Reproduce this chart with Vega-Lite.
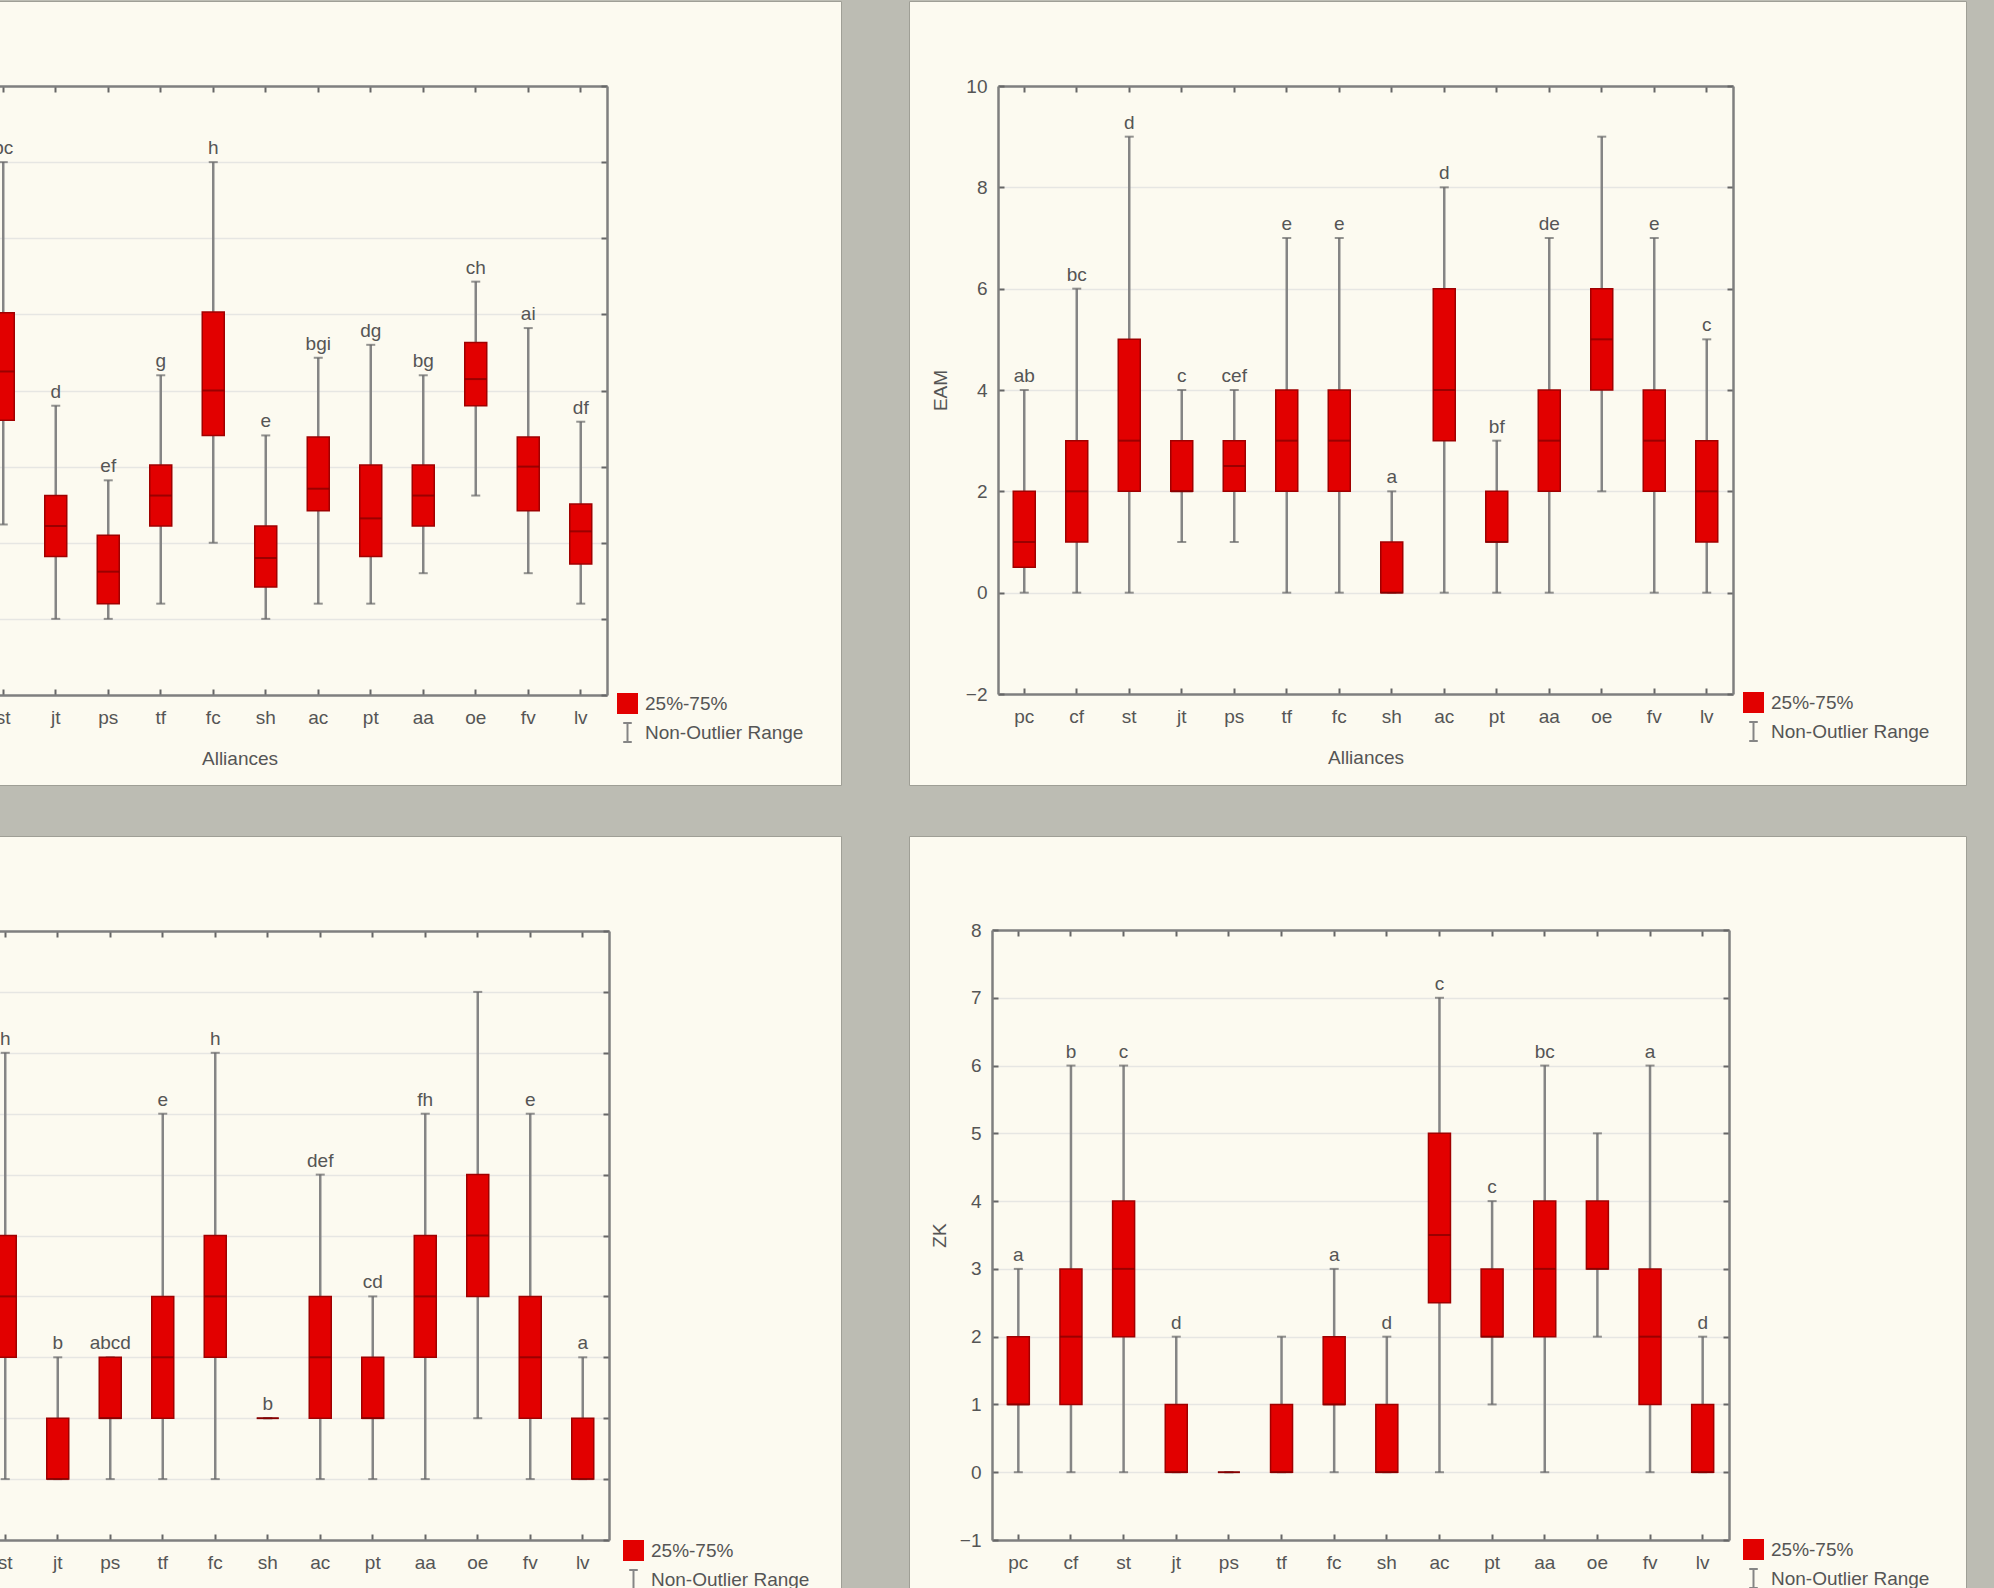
{
"$schema": "https://vega.github.io/schema/vega-lite/v6.json",
"background": "#bcbcb3",
"padding": {"left": -217, "top": 0, "right": 31, "bottom": 0},
"spacing": 66,
"datasets": {
"tl": [
{"a":"st","lo":1.24,"q1":2.61,"med":3.25,"q3":4.02,"hi":6.0,"sig":"bc"},
{"a":"jt","lo":0,"q1":0.82,"med":1.22,"q3":1.62,"hi":2.8,"sig":"d"},
{"a":"ps","lo":0,"q1":0.2,"med":0.62,"q3":1.1,"hi":1.82,"sig":"ef"},
{"a":"tf","lo":0.2,"q1":1.22,"med":1.62,"q3":2.02,"hi":3.2,"sig":"g"},
{"a":"fc","lo":1.0,"q1":2.41,"med":3.0,"q3":4.03,"hi":6.0,"sig":"h"},
{"a":"sh","lo":0,"q1":0.42,"med":0.8,"q3":1.22,"hi":2.41,"sig":"e"},
{"a":"ac","lo":0.2,"q1":1.42,"med":1.71,"q3":2.39,"hi":3.43,"sig":"bgi"},
{"a":"pt","lo":0.2,"q1":0.82,"med":1.32,"q3":2.02,"hi":3.6,"sig":"dg"},
{"a":"aa","lo":0.6,"q1":1.22,"med":1.62,"q3":2.02,"hi":3.2,"sig":"bg"},
{"a":"oe","lo":1.62,"q1":2.8,"med":3.15,"q3":3.63,"hi":4.43,"sig":"ch"},
{"a":"fv","lo":0.6,"q1":1.42,"med":2.0,"q3":2.39,"hi":3.82,"sig":"ai"},
{"a":"lv","lo":0.2,"q1":0.72,"med":1.15,"q3":1.51,"hi":2.59,"sig":"df"}
],
"tr": [
{"a":"pc","lo":0,"q1":0.5,"med":1,"q3":2,"hi":4,"sig":"ab"},
{"a":"cf","lo":0,"q1":1,"med":2,"q3":3,"hi":6,"sig":"bc"},
{"a":"st","lo":0,"q1":2,"med":3,"q3":5,"hi":9,"sig":"d"},
{"a":"jt","lo":1,"q1":2,"med":2,"q3":3,"hi":4,"sig":"c"},
{"a":"ps","lo":1,"q1":2,"med":2.5,"q3":3,"hi":4,"sig":"cef"},
{"a":"tf","lo":0,"q1":2,"med":3,"q3":4,"hi":7,"sig":"e"},
{"a":"fc","lo":0,"q1":2,"med":3,"q3":4,"hi":7,"sig":"e"},
{"a":"sh","lo":0,"q1":0,"med":0,"q3":1,"hi":2,"sig":"a"},
{"a":"ac","lo":0,"q1":3,"med":4,"q3":6,"hi":8,"sig":"d"},
{"a":"pt","lo":0,"q1":1,"med":1,"q3":2,"hi":3,"sig":"bf"},
{"a":"aa","lo":0,"q1":2,"med":3,"q3":4,"hi":7,"sig":"de"},
{"a":"oe","lo":2,"q1":4,"med":5,"q3":6,"hi":9,"sig":""},
{"a":"fv","lo":0,"q1":2,"med":3,"q3":4,"hi":7,"sig":"e"},
{"a":"lv","lo":0,"q1":1,"med":2,"q3":3,"hi":5,"sig":"c"}
],
"bl": [
{"a":"st","lo":0,"q1":2,"med":3,"q3":4,"hi":7,"sig":"h"},
{"a":"jt","lo":0,"q1":0,"med":0,"q3":1,"hi":2,"sig":"b"},
{"a":"ps","lo":0,"q1":1,"med":1,"q3":2,"hi":2,"sig":"abcd"},
{"a":"tf","lo":0,"q1":1,"med":2,"q3":3,"hi":6,"sig":"e"},
{"a":"fc","lo":0,"q1":2,"med":3,"q3":4,"hi":7,"sig":"h"},
{"a":"sh","lo":1,"q1":1,"med":1,"q3":1,"hi":1,"sig":"b"},
{"a":"ac","lo":0,"q1":1,"med":2,"q3":3,"hi":5,"sig":"def"},
{"a":"pt","lo":0,"q1":1,"med":1,"q3":2,"hi":3,"sig":"cd"},
{"a":"aa","lo":0,"q1":2,"med":3,"q3":4,"hi":6,"sig":"fh"},
{"a":"oe","lo":1,"q1":3,"med":4,"q3":5,"hi":8,"sig":""},
{"a":"fv","lo":0,"q1":1,"med":2,"q3":3,"hi":6,"sig":"e"},
{"a":"lv","lo":0,"q1":0,"med":0,"q3":1,"hi":2,"sig":"a"}
],
"br": [
{"a":"pc","lo":0,"q1":1,"med":1,"q3":2,"hi":3,"sig":"a"},
{"a":"cf","lo":0,"q1":1,"med":2,"q3":3,"hi":6,"sig":"b"},
{"a":"st","lo":0,"q1":2,"med":3,"q3":4,"hi":6,"sig":"c"},
{"a":"jt","lo":0,"q1":0,"med":0,"q3":1,"hi":2,"sig":"d"},
{"a":"ps","lo":0,"q1":0,"med":0,"q3":0,"hi":0,"sig":""},
{"a":"tf","lo":0,"q1":0,"med":0,"q3":1,"hi":2,"sig":""},
{"a":"fc","lo":0,"q1":1,"med":1,"q3":2,"hi":3,"sig":"a"},
{"a":"sh","lo":0,"q1":0,"med":0,"q3":1,"hi":2,"sig":"d"},
{"a":"ac","lo":0,"q1":2.5,"med":3.5,"q3":5,"hi":7,"sig":"c"},
{"a":"pt","lo":1,"q1":2,"med":2,"q3":3,"hi":4,"sig":"c"},
{"a":"aa","lo":0,"q1":2,"med":3,"q3":4,"hi":6,"sig":"bc"},
{"a":"oe","lo":2,"q1":3,"med":3,"q3":4,"hi":5,"sig":""},
{"a":"fv","lo":0,"q1":1,"med":2,"q3":3,"hi":6,"sig":"a"},
{"a":"lv","lo":0,"q1":0,"med":0,"q3":1,"hi":2,"sig":"d"}
]
},
"hconcat": [
{"vconcat": [
{
"width": 1057, "height": 784,
"data": {"name": "tl"},
"resolve": {"axis": {"x": "independent", "y": "independent"}},
"layer": [
{"mark": {"type": "rule", "strokeWidth": 2.5},
 "encoding": {
  "x": {"field": "a", "type": "nominal", "scale": {"domain": ["pc","cf","st","jt","ps","tf","fc","sh","ac","pt","aa","oe","fv","lv"], "range": [88, 823], "paddingInner": 0, "paddingOuter": 0},
        "axis": {"orient": "bottom", "offset": -90, "title": "Alliances", "labelPadding": 19, "titlePadding": 22}},
  "y": {"field": "lo", "type": "quantitative", "scale": {"domain": [-1, 7], "range": [694, 85], "nice": false, "zero": false},
        "axis": {"orient": "left", "offset": -88, "values": [-1,0,1,2,3,4,5,6,7], "title": null, "labels": false, "grid": true}},
  "y2": {"field": "hi"},
  "color": {"datum": "Non-Outlier Range", "type": "nominal", "scale": {"domain": ["25%-75%", "Non-Outlier Range"], "range": ["#e20000", "#858585"]},
    "legend": {"orient": "none", "legendX": 833, "legendY": 692, "title": null, "symbolSize": 361, "labelFontSize": 19, "labelColor": "#555", "labelFont": "Liberation Sans", "rowPadding": 2, "labelOffset": 7, "labelLimit": 400, "padding": 0,
      "encode": {"symbols": {"update": {"shape": {"signal": "datum.value === '25%-75%' ? 'square' : 'M-0.45,-1H0.45M0,-1V1M-0.45,1H0.45'"}, "fill": {"signal": "datum.value === '25%-75%' ? '#e20000' : 'transparent'"}, "stroke": {"signal": "datum.value === '25%-75%' ? '#a00000' : '#6e6e6e'"}, "strokeWidth": {"value": 2}, "opacity": {"value": 1}}}}}}
 }},
{"mark": {"type": "tick", "size": 9, "thickness": 2, "color": "#666"},
 "encoding": {"x": {"field": "a", "type": "nominal", "axis": null}, "y": {"field": "lo", "type": "quantitative", "axis": null}}},
{"mark": {"type": "tick", "size": 9, "thickness": 2, "color": "#666"},
 "encoding": {"x": {"field": "a", "type": "nominal", "axis": null}, "y": {"field": "hi", "type": "quantitative", "axis": null}}},
{"mark": {"type": "bar", "width": 22, "stroke": "#a00000", "strokeWidth": 1.5},
 "encoding": {
  "x": {"field": "a", "type": "nominal", "axis": {"orient": "top", "offset": -85, "labels": false, "title": null, "grid": false}},
  "y": {"field": "q1", "type": "quantitative", "axis": {"orient": "right", "offset": -234, "labels": false, "title": null, "grid": false, "values": [-1,0,1,2,3,4,5,6,7]}},
  "y2": {"field": "q3"},
  "color": {"datum": "25%-75%", "type": "nominal", "scale": {"domain": ["25%-75%", "Non-Outlier Range"], "range": ["#e20000", "#858585"]},
    "legend": {"orient": "none", "legendX": 833, "legendY": 692, "title": null, "symbolSize": 361, "labelFontSize": 19, "labelColor": "#555", "labelFont": "Liberation Sans", "rowPadding": 2, "labelOffset": 7, "labelLimit": 400, "padding": 0,
      "encode": {"symbols": {"update": {"shape": {"signal": "datum.value === '25%-75%' ? 'square' : 'M-0.45,-1H0.45M0,-1V1M-0.45,1H0.45'"}, "fill": {"signal": "datum.value === '25%-75%' ? '#e20000' : 'transparent'"}, "stroke": {"signal": "datum.value === '25%-75%' ? '#a00000' : '#6e6e6e'"}, "strokeWidth": {"value": 2}, "opacity": {"value": 1}}}}}}
 }},
{"mark": {"type": "tick", "size": 22, "thickness": 2, "color": "#7c0000"},
 "encoding": {"x": {"field": "a", "type": "nominal", "axis": null}, "y": {"field": "med", "type": "quantitative", "axis": null}}},
{"mark": {"type": "text", "baseline": "bottom", "dy": -4, "fontSize": 19, "color": "#555", "font": "Liberation Sans"},
 "encoding": {"x": {"field": "a", "type": "nominal", "axis": null}, "y": {"field": "hi", "type": "quantitative", "axis": null}, "text": {"field": "sig"}}}
]
},
{
"width": 1057, "height": 755,
"data": {"name": "bl"},
"resolve": {"axis": {"x": "independent", "y": "independent"}},
"layer": [
{"mark": {"type": "rule", "strokeWidth": 2.5},
 "encoding": {
  "x": {"field": "a", "type": "nominal", "scale": {"domain": ["pc","cf","st","jt","ps","tf","fc","sh","ac","pt","aa","oe","fv","lv"], "range": [90, 825], "paddingInner": 0, "paddingOuter": 0},
        "axis": {"orient": "bottom", "offset": -51, "title": null, "labelPadding": 19}},
  "y": {"field": "lo", "type": "quantitative", "scale": {"domain": [-1, 9], "range": [704, 95], "nice": false, "zero": false},
        "axis": {"orient": "left", "offset": -90, "values": [-1,0,1,2,3,4,5,6,7,8,9], "title": null, "labels": false, "grid": true}},
  "y2": {"field": "hi"},
  "color": {"datum": "Non-Outlier Range", "type": "nominal", "scale": {"domain": ["25%-75%", "Non-Outlier Range"], "range": ["#e20000", "#858585"]},
    "legend": {"orient": "none", "legendX": 839, "legendY": 704, "title": null, "symbolSize": 361, "labelFontSize": 19, "labelColor": "#555", "labelFont": "Liberation Sans", "rowPadding": 2, "labelOffset": 7, "labelLimit": 400, "padding": 0,
      "encode": {"symbols": {"update": {"shape": {"signal": "datum.value === '25%-75%' ? 'square' : 'M-0.45,-1H0.45M0,-1V1M-0.45,1H0.45'"}, "fill": {"signal": "datum.value === '25%-75%' ? '#e20000' : 'transparent'"}, "stroke": {"signal": "datum.value === '25%-75%' ? '#a00000' : '#6e6e6e'"}, "strokeWidth": {"value": 2}, "opacity": {"value": 1}}}}}}
 }},
{"mark": {"type": "tick", "size": 9, "thickness": 2, "color": "#666"},
 "encoding": {"x": {"field": "a", "type": "nominal", "axis": null}, "y": {"field": "lo", "type": "quantitative", "axis": null}}},
{"mark": {"type": "tick", "size": 9, "thickness": 2, "color": "#666"},
 "encoding": {"x": {"field": "a", "type": "nominal", "axis": null}, "y": {"field": "hi", "type": "quantitative", "axis": null}}},
{"mark": {"type": "bar", "width": 22, "stroke": "#a00000", "strokeWidth": 1.5},
 "encoding": {
  "x": {"field": "a", "type": "nominal", "axis": {"orient": "top", "offset": -95, "labels": false, "title": null, "grid": false}},
  "y": {"field": "q1", "type": "quantitative", "axis": {"orient": "right", "offset": -232, "labels": false, "title": null, "grid": false, "values": [-1,0,1,2,3,4,5,6,7,8,9]}},
  "y2": {"field": "q3"},
  "color": {"datum": "25%-75%", "type": "nominal", "scale": {"domain": ["25%-75%", "Non-Outlier Range"], "range": ["#e20000", "#858585"]},
    "legend": {"orient": "none", "legendX": 839, "legendY": 704, "title": null, "symbolSize": 361, "labelFontSize": 19, "labelColor": "#555", "labelFont": "Liberation Sans", "rowPadding": 2, "labelOffset": 7, "labelLimit": 400, "padding": 0,
      "encode": {"symbols": {"update": {"shape": {"signal": "datum.value === '25%-75%' ? 'square' : 'M-0.45,-1H0.45M0,-1V1M-0.45,1H0.45'"}, "fill": {"signal": "datum.value === '25%-75%' ? '#e20000' : 'transparent'"}, "stroke": {"signal": "datum.value === '25%-75%' ? '#a00000' : '#6e6e6e'"}, "strokeWidth": {"value": 2}, "opacity": {"value": 1}}}}}}
 }},
{"mark": {"type": "tick", "size": 22, "thickness": 2, "color": "#7c0000"},
 "encoding": {"x": {"field": "a", "type": "nominal", "axis": null}, "y": {"field": "med", "type": "quantitative", "axis": null}}},
{"mark": {"type": "text", "baseline": "bottom", "dy": -4, "fontSize": 19, "color": "#555", "font": "Liberation Sans"},
 "encoding": {"x": {"field": "a", "type": "nominal", "axis": null}, "y": {"field": "hi", "type": "quantitative", "axis": null}, "text": {"field": "sig"}}}
]
}
], "spacing": 49, "resolve": {"scale": {"color": "independent"}, "legend": {"color": "independent"}}},
{"vconcat": [
{
"width": 1057, "height": 784,
"data": {"name": "tr"},
"resolve": {"axis": {"x": "independent", "y": "independent"}},
"layer": [
{"mark": {"type": "rule", "strokeWidth": 2.5},
 "encoding": {
  "x": {"field": "a", "type": "nominal", "scale": {"domain": ["pc","cf","st","jt","ps","tf","fc","sh","ac","pt","aa","oe","fv","lv"], "range": [89, 824], "paddingInner": 0, "paddingOuter": 0},
        "axis": {"orient": "bottom", "offset": -91, "title": "Alliances", "labelPadding": 19, "titlePadding": 22}},
  "y": {"field": "lo", "type": "quantitative", "scale": {"domain": [-2, 10], "range": [693, 85], "nice": false, "zero": false},
        "axis": {"orient": "left", "offset": -89, "values": [-2,0,2,4,6,8,10], "title": "EAM", "grid": true, "labelPadding": 17, "titlePadding": 15}},
  "y2": {"field": "hi"},
  "color": {"datum": "Non-Outlier Range", "type": "nominal", "scale": {"domain": ["25%-75%", "Non-Outlier Range"], "range": ["#e20000", "#858585"]},
    "legend": {"orient": "none", "legendX": 834, "legendY": 691, "title": null, "symbolSize": 361, "labelFontSize": 19, "labelColor": "#555", "labelFont": "Liberation Sans", "rowPadding": 2, "labelOffset": 7, "labelLimit": 400, "padding": 0,
      "encode": {"symbols": {"update": {"shape": {"signal": "datum.value === '25%-75%' ? 'square' : 'M-0.45,-1H0.45M0,-1V1M-0.45,1H0.45'"}, "fill": {"signal": "datum.value === '25%-75%' ? '#e20000' : 'transparent'"}, "stroke": {"signal": "datum.value === '25%-75%' ? '#a00000' : '#6e6e6e'"}, "strokeWidth": {"value": 2}, "opacity": {"value": 1}}}}}}
 }},
{"mark": {"type": "tick", "size": 9, "thickness": 2, "color": "#666"},
 "encoding": {"x": {"field": "a", "type": "nominal", "axis": null}, "y": {"field": "lo", "type": "quantitative", "axis": null}}},
{"mark": {"type": "tick", "size": 9, "thickness": 2, "color": "#666"},
 "encoding": {"x": {"field": "a", "type": "nominal", "axis": null}, "y": {"field": "hi", "type": "quantitative", "axis": null}}},
{"mark": {"type": "bar", "width": 22, "stroke": "#a00000", "strokeWidth": 1.5},
 "encoding": {
  "x": {"field": "a", "type": "nominal", "axis": {"orient": "top", "offset": -85, "labels": false, "title": null, "grid": false}},
  "y": {"field": "q1", "type": "quantitative", "axis": {"orient": "right", "offset": -233, "labels": false, "title": null, "grid": false, "values": [-2,0,2,4,6,8,10]}},
  "y2": {"field": "q3"},
  "color": {"datum": "25%-75%", "type": "nominal", "scale": {"domain": ["25%-75%", "Non-Outlier Range"], "range": ["#e20000", "#858585"]},
    "legend": {"orient": "none", "legendX": 834, "legendY": 691, "title": null, "symbolSize": 361, "labelFontSize": 19, "labelColor": "#555", "labelFont": "Liberation Sans", "rowPadding": 2, "labelOffset": 7, "labelLimit": 400, "padding": 0,
      "encode": {"symbols": {"update": {"shape": {"signal": "datum.value === '25%-75%' ? 'square' : 'M-0.45,-1H0.45M0,-1V1M-0.45,1H0.45'"}, "fill": {"signal": "datum.value === '25%-75%' ? '#e20000' : 'transparent'"}, "stroke": {"signal": "datum.value === '25%-75%' ? '#a00000' : '#6e6e6e'"}, "strokeWidth": {"value": 2}, "opacity": {"value": 1}}}}}}
 }},
{"mark": {"type": "tick", "size": 22, "thickness": 2, "color": "#7c0000"},
 "encoding": {"x": {"field": "a", "type": "nominal", "axis": null}, "y": {"field": "med", "type": "quantitative", "axis": null}}},
{"mark": {"type": "text", "baseline": "bottom", "dy": -4, "fontSize": 19, "color": "#555", "font": "Liberation Sans"},
 "encoding": {"x": {"field": "a", "type": "nominal", "axis": null}, "y": {"field": "hi", "type": "quantitative", "axis": null}, "text": {"field": "sig"}}}
]
},
{
"width": 1057, "height": 755,
"data": {"name": "br"},
"resolve": {"axis": {"x": "independent", "y": "independent"}},
"layer": [
{"mark": {"type": "rule", "strokeWidth": 2.5},
 "encoding": {
  "x": {"field": "a", "type": "nominal", "scale": {"domain": ["pc","cf","st","jt","ps","tf","fc","sh","ac","pt","aa","oe","fv","lv"], "range": [83, 820], "paddingInner": 0, "paddingOuter": 0},
        "axis": {"orient": "bottom", "offset": -51, "title": null, "labelPadding": 19}},
  "y": {"field": "lo", "type": "quantitative", "scale": {"domain": [-1, 8], "range": [704, 94], "nice": false, "zero": false},
        "axis": {"orient": "left", "offset": -83, "values": [-1,0,1,2,3,4,5,6,7,8], "title": "ZK", "grid": true, "labelPadding": 17, "titlePadding": 10}},
  "y2": {"field": "hi"},
  "color": {"datum": "Non-Outlier Range", "type": "nominal", "scale": {"domain": ["25%-75%", "Non-Outlier Range"], "range": ["#e20000", "#858585"]},
    "legend": {"orient": "none", "legendX": 834, "legendY": 703, "title": null, "symbolSize": 361, "labelFontSize": 19, "labelColor": "#555", "labelFont": "Liberation Sans", "rowPadding": 2, "labelOffset": 7, "labelLimit": 400, "padding": 0,
      "encode": {"symbols": {"update": {"shape": {"signal": "datum.value === '25%-75%' ? 'square' : 'M-0.45,-1H0.45M0,-1V1M-0.45,1H0.45'"}, "fill": {"signal": "datum.value === '25%-75%' ? '#e20000' : 'transparent'"}, "stroke": {"signal": "datum.value === '25%-75%' ? '#a00000' : '#6e6e6e'"}, "strokeWidth": {"value": 2}, "opacity": {"value": 1}}}}}}
 }},
{"mark": {"type": "tick", "size": 9, "thickness": 2, "color": "#666"},
 "encoding": {"x": {"field": "a", "type": "nominal", "axis": null}, "y": {"field": "lo", "type": "quantitative", "axis": null}}},
{"mark": {"type": "tick", "size": 9, "thickness": 2, "color": "#666"},
 "encoding": {"x": {"field": "a", "type": "nominal", "axis": null}, "y": {"field": "hi", "type": "quantitative", "axis": null}}},
{"mark": {"type": "bar", "width": 22, "stroke": "#a00000", "strokeWidth": 1.5},
 "encoding": {
  "x": {"field": "a", "type": "nominal", "axis": {"orient": "top", "offset": -94, "labels": false, "title": null, "grid": false}},
  "y": {"field": "q1", "type": "quantitative", "axis": {"orient": "right", "offset": -237, "labels": false, "title": null, "grid": false, "values": [-1,0,1,2,3,4,5,6,7,8]}},
  "y2": {"field": "q3"},
  "color": {"datum": "25%-75%", "type": "nominal", "scale": {"domain": ["25%-75%", "Non-Outlier Range"], "range": ["#e20000", "#858585"]},
    "legend": {"orient": "none", "legendX": 834, "legendY": 703, "title": null, "symbolSize": 361, "labelFontSize": 19, "labelColor": "#555", "labelFont": "Liberation Sans", "rowPadding": 2, "labelOffset": 7, "labelLimit": 400, "padding": 0,
      "encode": {"symbols": {"update": {"shape": {"signal": "datum.value === '25%-75%' ? 'square' : 'M-0.45,-1H0.45M0,-1V1M-0.45,1H0.45'"}, "fill": {"signal": "datum.value === '25%-75%' ? '#e20000' : 'transparent'"}, "stroke": {"signal": "datum.value === '25%-75%' ? '#a00000' : '#6e6e6e'"}, "strokeWidth": {"value": 2}, "opacity": {"value": 1}}}}}}
 }},
{"mark": {"type": "tick", "size": 22, "thickness": 2, "color": "#7c0000"},
 "encoding": {"x": {"field": "a", "type": "nominal", "axis": null}, "y": {"field": "med", "type": "quantitative", "axis": null}}},
{"mark": {"type": "text", "baseline": "bottom", "dy": -4, "fontSize": 19, "color": "#555", "font": "Liberation Sans"},
 "encoding": {"x": {"field": "a", "type": "nominal", "axis": null}, "y": {"field": "hi", "type": "quantitative", "axis": null}, "text": {"field": "sig"}}}
]
}
], "spacing": 49, "resolve": {"scale": {"color": "independent"}, "legend": {"color": "independent"}}}
],
"resolve": {"scale": {"color": "independent"}, "legend": {"color": "independent"}},
"config": {
  "font": "Liberation Sans",
  "view": {"fill": "#fcfaf0", "stroke": "#9f9f96", "strokeWidth": 1},
  "axis": {"labelFont": "Liberation Sans", "labelFontSize": 19, "labelColor": "#555", "titleFont": "Liberation Sans", "titleFontSize": 19, "titleFontWeight": "normal", "titleColor": "#555", "domainColor": "#7f7f7f", "domainWidth": 2.5, "tickColor": "#666", "tickSize": -6, "tickWidth": 2, "gridColor": "#e6e6e3", "gridWidth": 1.5, "labelAngle": 0}
}
}
